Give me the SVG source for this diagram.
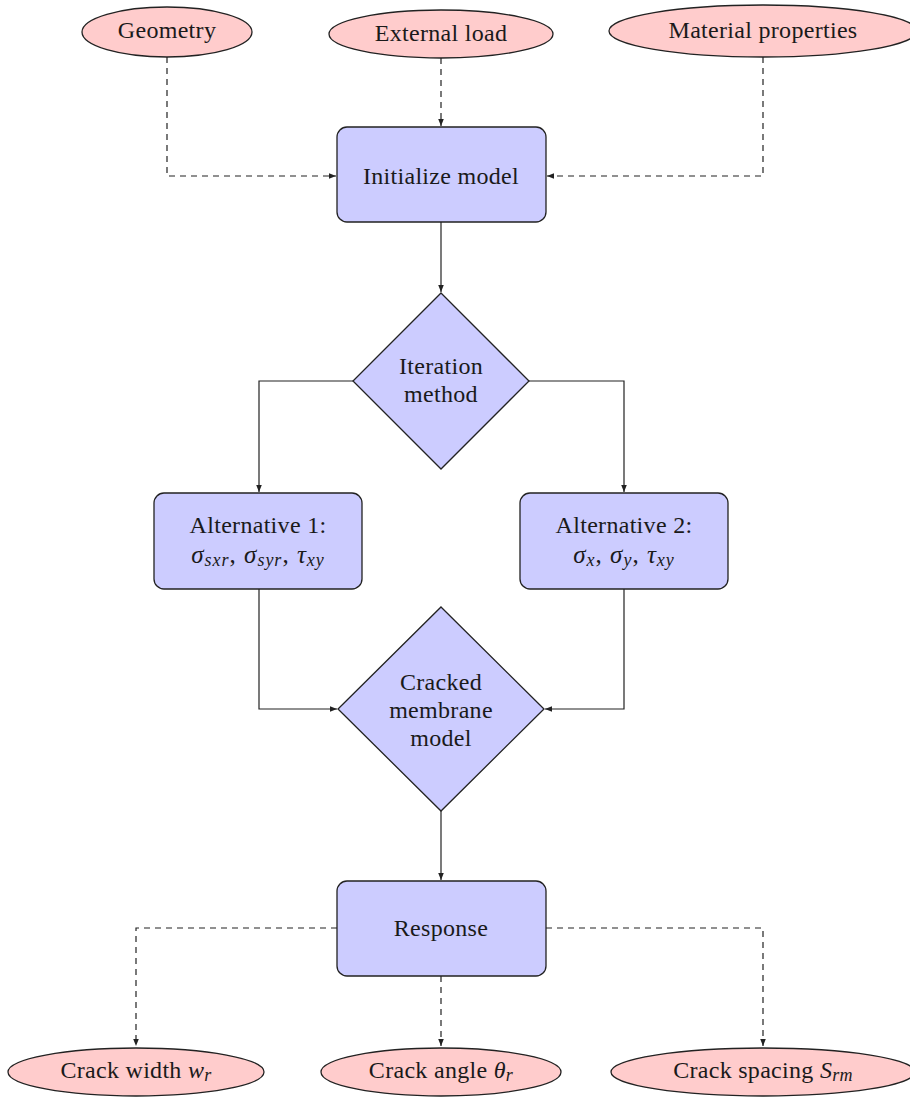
<svg xmlns="http://www.w3.org/2000/svg" width="910" height="1097" viewBox="0 0 910 1097">
<style>
.ell{fill:#ffcccc;stroke:#222;stroke-width:1.3}
.box{fill:#ccccff;stroke:#222;stroke-width:1.3}
.t{font-family:"Liberation Serif","DejaVu Serif",serif;font-size:24px;letter-spacing:0.3px;fill:#1a1a1a;text-anchor:middle}
.m{font-style:italic}
.mm{font-size:25px;letter-spacing:1px}
.s{font-size:18px;font-style:italic}
.solid{fill:none;stroke:#222;stroke-width:1.2}
.dash{fill:none;stroke:#222;stroke-width:1.2;stroke-dasharray:6,5}
</style>
<defs>
<marker id="ar" viewBox="0 0 10 10" refX="10" refY="5" markerWidth="7" markerHeight="7" orient="auto" markerUnits="userSpaceOnUse">
<path d="M0,1 L10,5 L0,9 Z" fill="#222"/>
</marker>
</defs>
<rect width="910" height="1097" fill="#fff"/>
<g id="connectors">
<path class="dash" d="M167,57 V176 H336" marker-end="url(#ar)"/>
<path class="dash" d="M441,58 V126" marker-end="url(#ar)"/>
<path class="dash" d="M763,57 V176 H547" marker-end="url(#ar)"/>
<path class="solid" d="M441,222 V292" marker-end="url(#ar)"/>
<path class="solid" d="M353,381 H259 V492" marker-end="url(#ar)"/>
<path class="solid" d="M529,381 H624 V492" marker-end="url(#ar)"/>
<path class="solid" d="M259,589 V709 H337" marker-end="url(#ar)"/>
<path class="solid" d="M624,589 V709 H545" marker-end="url(#ar)"/>
<path class="solid" d="M441,811 V880" marker-end="url(#ar)"/>
<path class="dash" d="M337,928 H136 V1046" marker-end="url(#ar)"/>
<path class="dash" d="M441,976 V1046" marker-end="url(#ar)"/>
<path class="dash" d="M546,928 H763 V1046" marker-end="url(#ar)"/>
</g>
<g id="geometry">
<ellipse class="ell" cx="167" cy="32" rx="85" ry="25"/>
<text class="t" x="167" y="38">Geometry</text>
</g>
<g id="external-load">
<ellipse class="ell" cx="441" cy="34" rx="112" ry="24"/>
<text class="t" x="441" y="41">External load</text>
</g>
<g id="material-properties">
<ellipse class="ell" cx="763" cy="31" rx="154" ry="26"/>
<text class="t" x="763" y="38">Material properties</text>
</g>
<g id="initialize-model">
<rect class="box" x="337" y="127" width="209" height="95" rx="10"/>
<text class="t" x="441" y="184">Initialize model</text>
</g>
<g id="iteration-method">
<polygon class="box" points="441,293 529,381 441,469 353,381"/>
<text class="t" x="441" y="374">Iteration</text>
<text class="t" x="441" y="402">method</text>
</g>
<g id="alternative-1">
<rect class="box" x="154" y="493" width="208" height="96" rx="10"/>
<text class="t" x="258" y="533">Alternative 1:</text>
<text class="t mm" x="258" y="563"><tspan class="m">σ</tspan><tspan class="s" dy="3">sxr</tspan><tspan dy="-3">, </tspan><tspan class="m">σ</tspan><tspan class="s" dy="3">syr</tspan><tspan dy="-3">, </tspan><tspan class="m">τ</tspan><tspan class="s" dy="3">xy</tspan></text>
</g>
<g id="alternative-2">
<rect class="box" x="520" y="493" width="208" height="96" rx="10"/>
<text class="t" x="624" y="533">Alternative 2:</text>
<text class="t mm" x="624" y="563"><tspan class="m">σ</tspan><tspan class="s" dy="3">x</tspan><tspan dy="-3">, </tspan><tspan class="m">σ</tspan><tspan class="s" dy="3">y</tspan><tspan dy="-3">, </tspan><tspan class="m">τ</tspan><tspan class="s" dy="3">xy</tspan></text>
</g>
<g id="cracked-membrane-model">
<polygon class="box" points="441,607 544,709 441,811 338,709"/>
<text class="t" x="441" y="690">Cracked</text>
<text class="t" x="441" y="718">membrane</text>
<text class="t" x="441" y="746">model</text>
</g>
<g id="response">
<rect class="box" x="337" y="881" width="209" height="95" rx="10"/>
<text class="t" x="441" y="936">Response</text>
</g>
<g id="crack-width">
<ellipse class="ell" cx="136" cy="1072" rx="128" ry="24"/>
<text class="t" x="136" y="1078">Crack width <tspan class="m">w</tspan><tspan class="s" dy="3">r</tspan></text>
</g>
<g id="crack-angle">
<ellipse class="ell" cx="441" cy="1072" rx="120" ry="24"/>
<text class="t" x="441" y="1078">Crack angle <tspan class="m">θ</tspan><tspan class="s" dy="3">r</tspan></text>
</g>
<g id="crack-spacing">
<ellipse class="ell" cx="763" cy="1072" rx="152" ry="24"/>
<text class="t" x="763" y="1078">Crack spacing <tspan class="m">S</tspan><tspan class="s" dy="3">rm</tspan></text>
</g>
</svg>
